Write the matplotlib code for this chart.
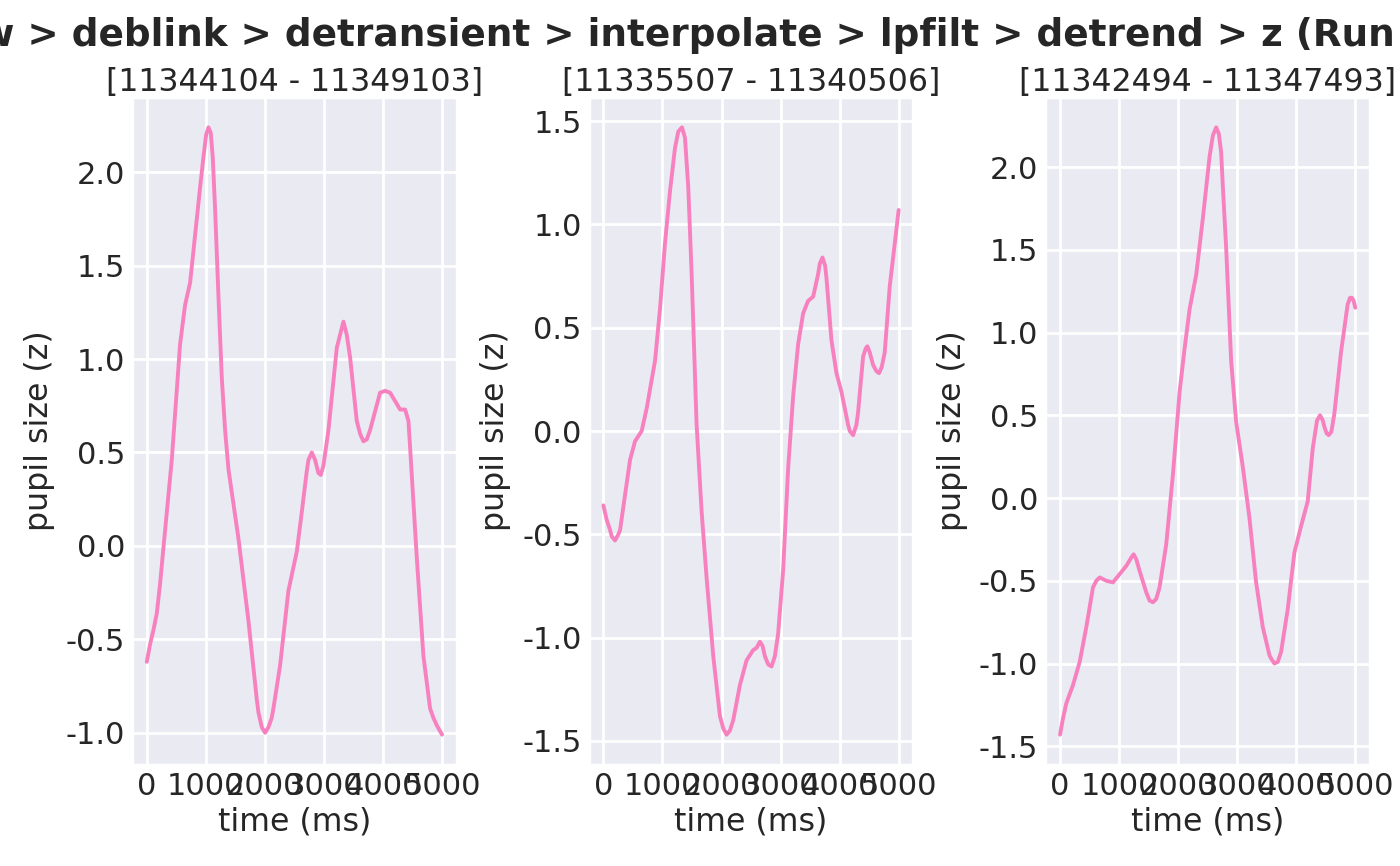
import matplotlib
matplotlib.use("Agg")
import matplotlib.pyplot as plt
import seaborn as sns

# ---- data ----
titles = ["[11344104 - 11349103]", "[11335507 - 11340506]", "[11342494 - 11347493]"]
suptitle = "raw > deblink > detransient > interpolate > lpfilt > detrend > z (Run 1)"
xticks = [0, 1000, 2000, 3000, 4000, 5000]

t1 = [0, 60, 113, 170, 226, 282, 423, 564, 649, 734, 903, 959, 1005, 1044, 1084, 1117,
      1157, 1213, 1270, 1326, 1383, 1552, 1721, 1862, 1890, 1947, 2003, 2060, 2116, 2144,
      2257, 2398, 2540, 2624, 2709, 2737, 2794, 2850, 2906, 2946, 2991, 3076, 3217, 3273,
      3330, 3386, 3442, 3555, 3612, 3668, 3725, 3781, 3950, 4035, 4120, 4233, 4289, 4374,
      4430, 4458, 4571, 4684, 4797, 4853, 4910, 4999]
y1 = [-0.62, -0.52, -0.45, -0.36, -0.20, -0.01, 0.46, 1.08, 1.29, 1.41, 1.92, 2.08, 2.20,
      2.24, 2.21, 2.08, 1.80, 1.34, 0.90, 0.62, 0.41, 0.04, -0.40, -0.82, -0.89, -0.97,
      -1.00, -0.97, -0.92, -0.87, -0.64, -0.24, -0.03, 0.18, 0.40, 0.46, 0.50, 0.46, 0.39,
      0.38, 0.43, 0.62, 1.06, 1.13, 1.20, 1.13, 1.01, 0.67, 0.60, 0.56, 0.57, 0.62, 0.82,
      0.83, 0.82, 0.76, 0.73, 0.73, 0.67, 0.53, -0.06, -0.59, -0.87, -0.92, -0.96, -1.01]

t2 = [0, 56, 113, 141, 197, 254, 282, 366, 451, 535, 648, 733, 874, 958, 1043, 1127, 1212,
      1268, 1330, 1381, 1437, 1494, 1578, 1663, 1747, 1860, 1973, 2029, 2086, 2142, 2198,
      2311, 2424, 2537, 2593, 2649, 2694, 2734, 2790, 2847, 2903, 2959, 3044, 3128, 3213,
      3297, 3382, 3466, 3551, 3636, 3664, 3709, 3754, 3777, 3861, 3946, 4030, 4143, 4171,
      4228, 4284, 4312, 4397, 4442, 4470, 4510, 4566, 4622, 4667, 4713, 4763, 4848, 4999]
y2 = [-0.36, -0.43, -0.48, -0.51, -0.53, -0.50, -0.48, -0.31, -0.14, -0.05, 0.00, 0.11,
      0.34, 0.59, 0.91, 1.16, 1.37, 1.45, 1.47, 1.42, 1.18, 0.76, 0.03, -0.39, -0.71,
      -1.09, -1.38, -1.44, -1.47, -1.45, -1.40, -1.23, -1.11, -1.06, -1.05, -1.02, -1.04,
      -1.09, -1.13, -1.14, -1.09, -0.98, -0.67, -0.18, 0.17, 0.42, 0.57, 0.63, 0.65, 0.76,
      0.81, 0.84, 0.80, 0.74, 0.44, 0.28, 0.19, 0.03, 0.00, -0.02, 0.03, 0.09, 0.36, 0.40,
      0.41, 0.38, 0.32, 0.29, 0.28, 0.31, 0.38, 0.70, 1.07]

t3 = [0, 51, 107, 220, 333, 445, 558, 614, 671, 727, 783, 896, 1009, 1122, 1206, 1246,
      1291, 1347, 1460, 1516, 1573, 1629, 1685, 1798, 1911, 2024, 2108, 2193, 2306, 2418,
      2531, 2587, 2644, 2689, 2728, 2757, 2813, 2897, 2982, 3094, 3207, 3320, 3433, 3546,
      3574, 3630, 3687, 3743, 3856, 3968, 4081, 4194, 4279, 4352, 4403, 4448, 4476, 4515,
      4549, 4594, 4645, 4757, 4870, 4910, 4943, 4972, 4999]
y3 = [-1.43, -1.33, -1.24, -1.13, -0.99, -0.78, -0.54, -0.50, -0.48, -0.49, -0.50, -0.51,
      -0.46, -0.41, -0.36, -0.34, -0.37, -0.44, -0.57, -0.62, -0.63, -0.61, -0.54, -0.28,
      0.14, 0.64, 0.90, 1.14, 1.35, 1.69, 2.06, 2.19, 2.24, 2.20, 2.09, 1.88, 1.51, 0.83,
      0.46, 0.19, -0.12, -0.51, -0.78, -0.95, -0.97, -1.00, -0.99, -0.93, -0.67, -0.33,
      -0.17, -0.02, 0.30, 0.47, 0.50, 0.47, 0.43, 0.39, 0.38, 0.40, 0.51, 0.88, 1.17,
      1.21, 1.21, 1.19, 1.15]

times = [t1, t2, t3]
values = [y1, y2, y3]

# ---- style ----
sns.set_theme(style="darkgrid")
plt.rcParams["font.family"] = ["DejaVu Sans"]
plt.rcParams["axes.unicode_minus"] = False

line_color = "#f781bf"

fig, axes = plt.subplots(1, 3, figsize=(7, 4.33), dpi=200)
fig.subplots_adjust(left=0.0943, right=0.9786, bottom=0.1166, top=0.888, wspace=0.406)

for ax, t, v, title in zip(axes, times, values, titles):
    ax.plot(t, v, color=line_color, linewidth=1.4, solid_joinstyle="round")
    ax.set_title(title, fontsize=11.4, pad=2, color="0.15")
    ax.set_xlabel("time (ms)", fontsize=11.4, color="0.15", labelpad=2)
    ax.set_ylabel("pupil size (z)", fontsize=11.4, color="0.15")
    ax.tick_params(axis="both", labelsize=11, pad=2.5, length=0, colors="0.15")
    ax.set_xticks(xticks)

fig.suptitle(suptitle, fontsize=13.45, fontweight="bold", color="0.15", x=0.495)

fig.savefig("out.png", dpi=200)
